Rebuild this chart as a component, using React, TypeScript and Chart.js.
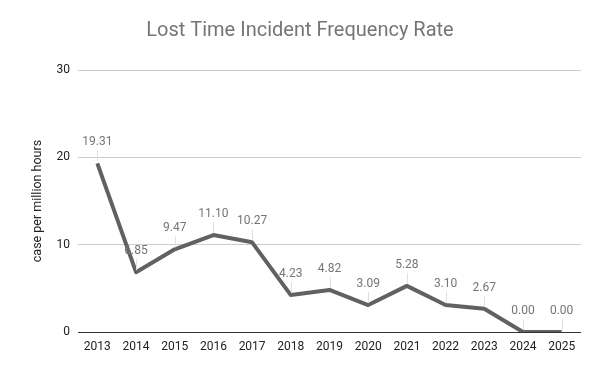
import React, { useEffect, useRef } from "react";
import { Chart, registerables } from "chart.js";

Chart.register(...registerables);

const years = ["2013", "2014", "2015", "2016", "2017", "2018", "2019", "2020", "2021", "2022", "2023", "2024", "2025"];
const rates = [19.31, 6.85, 9.47, 11.1, 10.27, 4.23, 4.82, 3.09, 5.28, 3.1, 2.67, 0, 0];
const yTicks = [0, 10, 20, 30];

const labelPlugin = {
  id: "pointLabels",
  afterDatasetsDraw(chart: any) {
    const ctx = chart.ctx;
    const meta = chart.getDatasetMeta(0);
    ctx.save();
    meta.data.forEach((pt: any, i: number) => {
      const x = pt.x;
      const y = pt.y;
      ctx.strokeStyle = "#e0e0e0";
      ctx.lineWidth = 1;
      ctx.beginPath();
      ctx.moveTo(Math.round(x) + 0.5, y - 13);
      ctx.lineTo(Math.round(x) + 0.5, y - 2);
      ctx.stroke();
      ctx.fillStyle = "#757575";
      ctx.font = "12px Roboto";
      ctx.textAlign = "center";
      ctx.textBaseline = "middle";
      ctx.fillText(rates[i].toFixed(2), x, y - 21);
    });
    ctx.restore();
  },
};

export default function App() {
  const ref = useRef<HTMLCanvasElement>(null);
  useEffect(() => {
    const chart = new Chart(ref.current as HTMLCanvasElement, {
      type: "line",
      data: {
        labels: years,
        datasets: [
          {
            data: rates,
            borderColor: "#616161",
            borderWidth: 4,
            pointRadius: 0,
            tension: 0,
            borderJoinStyle: "round",
          },
        ],
      },
      options: {
        animation: false,
        responsive: false,
        layout: { padding: { left: 19, right: 19, top: 0, bottom: 0 } },
        plugins: {
          legend: { display: false },
          tooltip: { enabled: false },
          title: {
            display: true,
            text: "Lost Time Incident Frequency Rate",
            color: "#757575",
            font: { family: "Roboto", size: 20, weight: "normal" },
            padding: { top: 19, bottom: 27 },
          },
        },
        scales: {
          x: {
            offset: true,
            grid: { display: false, drawTicks: false },
            border: { display: false },
            ticks: { color: "#222", font: { family: "Roboto", size: 12 }, padding: 8, maxRotation: 0, autoSkip: false },
            afterFit(scale: any) {
              scale.height = 39;
            },
          },
          y: {
            min: 0,
            max: 30,
            afterBuildTicks(scale: any) {
              scale.ticks = yTicks.map((v) => ({ value: v }));
            },
            grid: {
              drawTicks: false,
              color: (c: any) => (c.tick && c.tick.value === 0 ? "#333333" : "#cccccc"),
              lineWidth: 1,
            },
            border: { display: false },
            ticks: { color: "#222", font: { family: "Roboto", size: 12 }, padding: 8 },
            title: {
              display: true,
              text: "case per million hours",
              color: "#222",
              font: { family: "Roboto", size: 12.5 },
              padding: { top: 11, bottom: 0 },
            },
            afterFit(scale: any) {
              scale.width = 59;
            },
          },
        },
      },
      plugins: [labelPlugin],
    } as any);
    return () => chart.destroy();
  }, []);
  return (
    <div style={{ position: "fixed", left: 0, top: 0, width: 600, height: 371, background: "#fff" }}>
      <canvas ref={ref} width={600} height={371} />
    </div>
  );
}
